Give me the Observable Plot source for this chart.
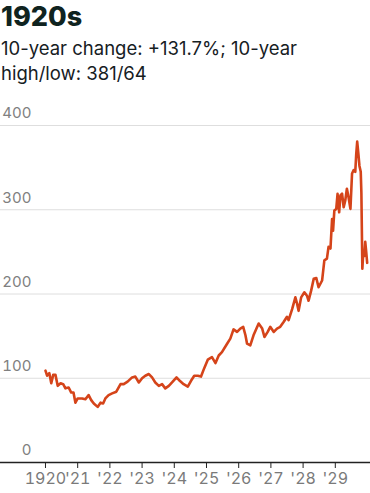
<!DOCTYPE html>
<html>
<head>
<meta charset="utf-8">
<script src="https://cdn.jsdelivr.net/npm/d3@7"></script>
<script src="https://cdn.jsdelivr.net/npm/@observablehq/plot@0.6"></script>
<style>
  html, body { margin: 0; padding: 0; background: #fff; }
  body { width: 370px; height: 493px; overflow: hidden; font-family: Inter, Roboto, "Noto Sans", sans-serif; }
  #head { height: 100px; position: relative; }
  #title { position: absolute; left: 1px; top: 2px; font-size: 27px; font-weight: 800; line-height: 30px; color: #0f2320; }
  #sub { position: absolute; left: 1px; top: 36px; font-size: 18.5px; line-height: 25px; color: #16201f; white-space: nowrap; }
  #chart svg { display: block; overflow: visible; }
</style>
</head>
<body>
<div id="head">
  <div id="title">1920s</div>
  <div id="sub">10-year change: +131.7%; 10-year<br>high/low: 381/64</div>
</div>
<div id="chart"></div>
<script>
// decimal years and index values
const years = [
  1920.00, 1920.05, 1920.12, 1920.18, 1920.24, 1920.31, 1920.38, 1920.47, 1920.55, 1920.62,
  1920.72, 1920.80, 1920.87, 1920.93, 1921.00, 1921.14, 1921.24, 1921.34, 1921.42, 1921.50,
  1921.62, 1921.71, 1921.79, 1921.86, 1921.96, 1922.07, 1922.20, 1922.33, 1922.43, 1922.55,
  1922.69, 1922.79, 1922.90, 1923.00, 1923.10, 1923.21, 1923.31, 1923.41, 1923.52, 1923.62,
  1923.72, 1923.83, 1923.93, 1924.07, 1924.17, 1924.29, 1924.42, 1924.52, 1924.62, 1924.73,
  1924.83, 1924.93, 1925.04, 1925.17, 1925.28, 1925.38, 1925.48, 1925.64, 1925.74, 1925.84,
  1925.95, 1926.05, 1926.14, 1926.21, 1926.26, 1926.36, 1926.46, 1926.62, 1926.73, 1926.80,
  1926.90, 1926.98, 1927.09, 1927.19, 1927.29, 1927.40, 1927.50, 1927.55, 1927.66, 1927.76,
  1927.81, 1927.86, 1927.94, 1928.04, 1928.12, 1928.17, 1928.25, 1928.33, 1928.41, 1928.48,
  1928.59, 1928.66, 1928.74, 1928.79, 1928.85, 1928.90, 1928.93, 1928.97, 1929.03, 1929.07,
  1929.12, 1929.16, 1929.21, 1929.26, 1929.31, 1929.36, 1929.41, 1929.47, 1929.52, 1929.57,
  1929.62, 1929.65, 1929.68, 1929.72, 1929.75, 1929.79, 1929.81, 1929.84, 1929.87, 1929.90,
  1929.93, 1929.96, 1929.99
];
const values = [
  109, 103, 106, 94, 104, 104, 91, 94, 93, 88,
  89, 83, 83, 71, 76, 76, 75, 80, 74, 70,
  66, 71, 70, 76, 80, 82, 84, 93, 93, 96,
  101, 102, 95, 100, 103, 105, 101, 95, 91, 93,
  88, 91, 95, 101, 97, 93, 90, 97, 103, 103,
  102, 112, 122, 125, 118, 127, 131, 141, 147, 158,
  155, 159, 161, 151, 141, 139, 151, 165, 159, 149,
  155, 161, 155, 159, 161, 167, 173, 169, 182, 196,
  189, 180, 196, 202, 198, 192, 204, 218, 219, 208,
  216, 240, 242, 256, 254, 289, 275, 299, 301, 319,
  297, 317, 319, 303, 311, 325, 315, 301, 343, 347,
  345, 366, 381, 365, 352, 345, 320, 230, 250, 245,
  262, 250, 237
];
const yTicks = [0, 100, 200, 300, 400];
const xTicks = [1920, 1921, 1922, 1923, 1924, 1925, 1926, 1927, 1928, 1929];

const data = years.map((t, i) => ({t, v: values[i]}));
const pxPerYear = 32.22;

const chart = Plot.plot({
  width: 370,
  height: 393,
  marginLeft: 0,
  marginRight: 0,
  marginTop: 25,
  marginBottom: 31,
  style: { fontFamily: "Inter, Roboto, 'Noto Sans', sans-serif", fontSize: "16px", color: "#7a7a7a", background: "white" },
  x: { domain: [1920 - 45 / pxPerYear, 1930 + 3 / pxPerYear], label: null },
  y: { domain: [0, 400], label: null },
  marks: [
    Plot.ruleY(yTicks.filter(d => d > 0), { stroke: "#dedede", strokeWidth: 1 }),
    Plot.axisY({ ticks: yTicks, anchor: "left", tickSize: 0, tickPadding: 0, textAnchor: "end", dx: 31, dy: -12, fill: "#808080", fontSize: 15, label: null }),
    Plot.axisX({ ticks: xTicks, tickSize: 6, tickPadding: 4, stroke: "#222", fill: "#7a7a7a", fontSize: 16, label: null,
      tickFormat: d => d === 1920 ? "1920" : "'" + String(d).slice(2) }),
    Plot.line(data, { x: "t", y: "v", stroke: "#d5441a", strokeWidth: 2.6, strokeLinejoin: "round", strokeLinecap: "round" }),
    Plot.ruleY([0], { stroke: "#222", strokeWidth: 1.5 })
  ]
});
document.getElementById("chart").appendChild(chart);
</script>
</body>
</html>
